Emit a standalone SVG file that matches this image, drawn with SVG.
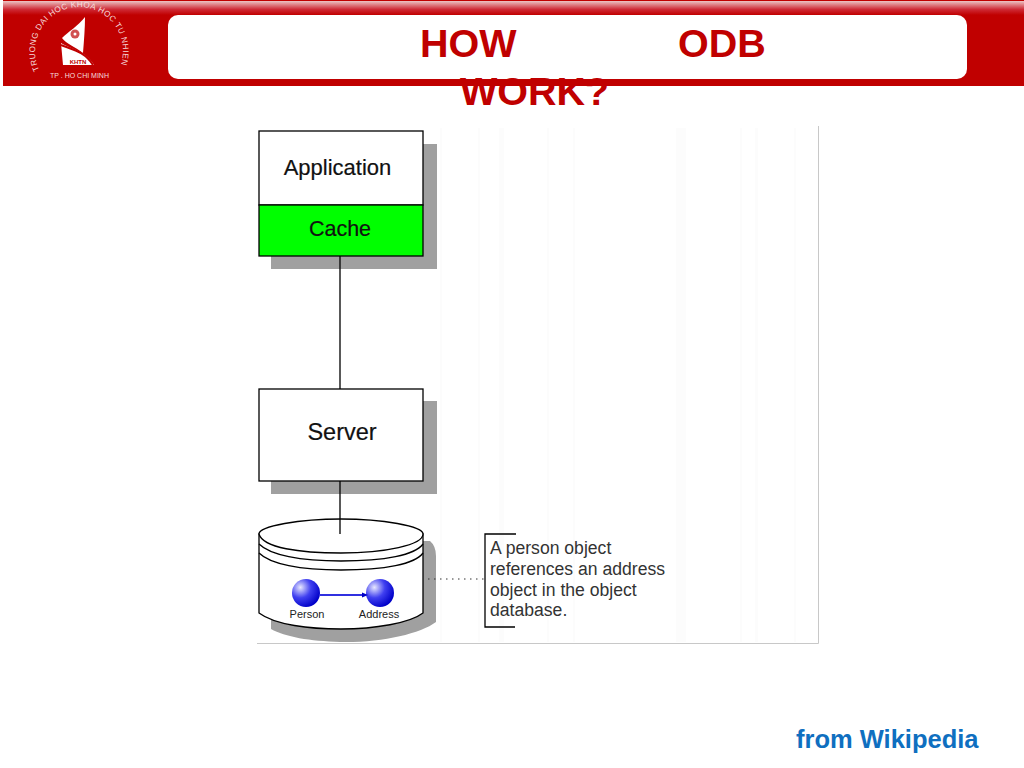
<svg xmlns="http://www.w3.org/2000/svg" width="1024" height="768" viewBox="0 0 1024 768">
<style>
.a{font-family:"Liberation Sans",Arial,sans-serif}
.box{fill:#fff;stroke:#000;stroke-width:1.3}
.sh{fill:#a0a0a0}
.lbl{font-family:"Liberation Sans",Arial,sans-serif;fill:#111;text-anchor:middle;stroke:#111;stroke-width:.2}
.note{font-family:"Liberation Sans",Arial,sans-serif;font-size:17.6px;fill:#333}
.title{font-family:"Liberation Sans",Arial,sans-serif;font-size:39.500px;font-weight:700;fill:#c00000}
.ln{fill:none;stroke:#000;stroke-width:1.3}
.small{font-family:"Liberation Sans",Arial,sans-serif;font-size:11px;fill:#222;text-anchor:middle}
.logo{font-family:"Liberation Sans",Arial,sans-serif;font-size:8.200px;fill:#f6dcdc;letter-spacing:.4px}
.stripe{fill:#fcfcfc}
</style>
<defs>
<linearGradient id="top" x1="0" y1="0" x2="0" y2="1"><stop offset="0" stop-color="#ecc4c4"/><stop offset="0.6" stop-color="#cf2a35"/><stop offset="1" stop-color="#c00000"/></linearGradient>
<radialGradient id="ball" cx="0.3" cy="0.3" r="0.75"><stop offset="0" stop-color="#e8e8ff"/><stop offset="0.5" stop-color="#4040f0"/><stop offset="1" stop-color="#0000c8"/></radialGradient>
<path id="arc" d="M39.300 70A44 44 0 1 1 118.700 70"/>
</defs>
<rect width="1024" height="768" fill="#fff"/>
<g id="background-stripes">
<rect class="stripe" x="440" y="128" width="2" height="514"/>
<rect class="stripe" x="478" y="128" width="2" height="514"/>
<rect class="stripe" x="499" y="128" width="5" height="514"/>
<rect class="stripe" x="547" y="128" width="2" height="514"/>
<rect class="stripe" x="573" y="128" width="2" height="514"/>
<rect class="stripe" x="676" y="128" width="10" height="514"/>
<rect class="stripe" x="740" y="128" width="2" height="514"/>
<rect class="stripe" x="755" y="128" width="3" height="514"/>
<rect class="stripe" x="794" y="128" width="2" height="514"/>
</g>
<g id="header">
<rect x="3" y="0" width="1021" height="86" fill="#c00000"/>
<rect x="3" y="1" width="1021" height="14" fill="url(#top)"/>
<rect x="168" y="15" width="799" height="64" rx="10" fill="#fff"/>
</g>
<g id="logo">
<text class="logo"><textPath href="#arc">TRUONG DAI HOC KHOA HOC TU NHIEN</textPath></text>
<text x="50" y="78" style="font-family:'Liberation Sans',Arial,sans-serif;font-size:7px;fill:#f6dcdc">TP . HO CHI MINH</text>
<path d="M85 17C78 26 68 32 62 38C66 44 76 47 83 53C84 40 85 28 85 17Z" fill="#fff"/>
<path d="M61 43C72 50 85 50 94 65H63Z" fill="#fff"/>
<path d="M61 45C74 50 85 52 93 65" fill="none" stroke="#c00000" stroke-width="2"/>
<circle cx="75" cy="34" r="4.500" fill="#d05050"/>
<circle cx="75" cy="34" r="1.500" fill="#fff"/>
<text x="78" y="64" text-anchor="middle" style="font-family:'Liberation Sans',Arial,sans-serif;font-size:6px;font-weight:700;fill:#c00000">KHTN</text>
</g>
<g id="title">
<text class="title" x="420" y="57">HOW</text>
<text class="title" x="678" y="57">ODB</text>
<text class="title" x="460" y="105">WORK?</text>
</g>
<g id="frame">
<path d="M818.500 126V643.500H257" fill="none" stroke="#c8c8c8"/>
</g>
<g id="application">
<rect class="sh" x="271" y="144" width="166" height="125"/>
<rect class="box" x="259" y="131" width="164" height="74"/>
<text class="lbl" x="337.500" y="175" font-size="22">Application</text>
</g>
<g id="cache">
<rect class="box" x="259" y="205" width="164" height="51" style="fill:#00ff00"/>
<text class="lbl" x="340" y="236" font-size="21.500">Cache</text>
</g>
<g id="server">
<rect class="sh" x="271" y="401" width="166" height="93"/>
<rect class="box" x="259" y="389" width="164" height="92"/>
<text class="lbl" x="342" y="440" font-size="23.500">Server</text>
</g>
<g id="database">
<path class="sh" d="M423 541H430Q436 546 436 556V622C420 634 380 643 340 642C310 641 285 637 271 629V610H423Z"/>
<path class="box" d="M259 534V613C275 625 310 629 341 629C375 629 410 623 423 613V534Z"/>
<path class="ln" d="M259 534C259 526 300 519 341 519C382 519 423 526 423 534C423 545 385 553 341 553C300 553 263 548 259 534Z" style="fill:#fff"/>
<path class="ln" d="M259 544C270 555 300 561 341 561C385 561 415 555 423 544M259 553C270 564 300 570 341 570C385 570 415 564 423 553"/>
<circle cx="306" cy="593" r="14" fill="url(#ball)"/>
<circle cx="380" cy="593" r="14" fill="url(#ball)"/>
<text class="small" x="307" y="618">Person</text>
<text class="small" x="379" y="618">Address</text>
</g>
<g id="note">
<path class="ln" d="M516 534H485V627H515"/>
<text class="note" x="490" y="554">A person object</text>
<text class="note" x="490" y="575">references an address</text>
<text class="note" x="490" y="596">object in the object</text>
<text class="note" x="490" y="616">database.</text>
</g>
<g id="connectors">
<path class="ln" d="M340 256V389M340 481V534"/>
<path d="M428 579H484" fill="none" stroke="#333" stroke-width="1" stroke-dasharray="1.500 4.500"/>
<path d="M320 595H365" fill="none" stroke="#3030e0" stroke-width="2"/>
<path d="M368 595l-6 -2.500v5z" fill="#0000c8"/>
</g>
<g id="footer">
<text class="a" x="796" y="748" font-size="25.500" font-weight="700" fill="#0f6fc0">from Wikipedia</text>
</g>
</svg>
